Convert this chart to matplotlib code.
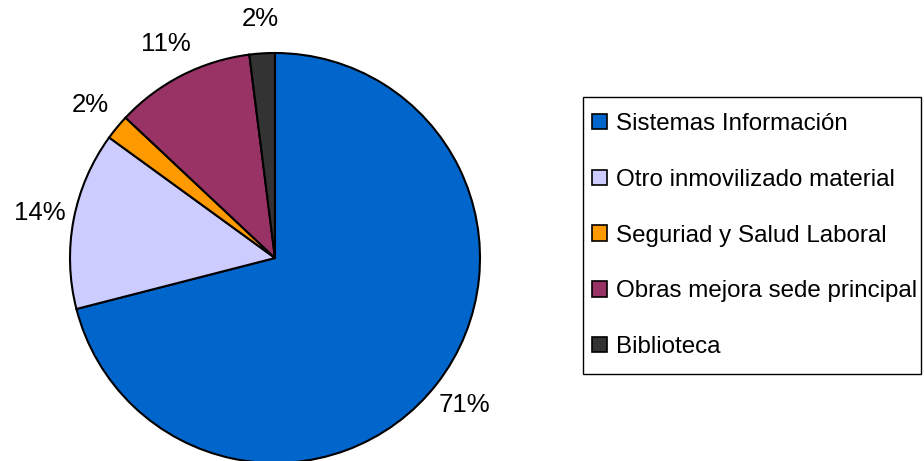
import matplotlib.pyplot as plt
from matplotlib.patches import Patch, Rectangle

plt.rcParams['font.family'] = ['Liberation Sans', 'DejaVu Sans']

categorias = ['Sistemas Información', 'Otro inmovilizado material',
              'Seguriad y Salud Laboral', 'Obras mejora sede principal',
              'Biblioteca']
porcentajes = [71, 14, 2, 11, 2]
colores = ['#0066CC', '#CCCCFF', '#FF9900', '#993366', '#333333']

W, H = 924, 461
fig = plt.figure(figsize=(W / 100, H / 100), dpi=100)
ax = fig.add_axes([0, 0, 1, 1])

wedges, textos, pct = ax.pie(
    porcentajes, colors=colores, startangle=90, counterclock=False,
    center=(275, 203), radius=205, frame=True,
    autopct='%1.0f%%', pctdistance=1.17,
    wedgeprops=dict(edgecolor='black', linewidth=1.5),
    textprops=dict(fontsize=18.5, color='black'))
ax.set_xlim(0, W)
ax.set_ylim(0, H)
ax.set_aspect('equal')
ax.axis('off')

# marco de la leyenda
fig.patches.append(Rectangle((583 / W, 1 - 374 / H), 338 / W, 277 / H,
                             transform=fig.transFigure, facecolor='white',
                             edgecolor='black', linewidth=1.0, zorder=0))

handles = [Patch(facecolor=c, edgecolor='black', linewidth=1.2) for c in colores]
leg = fig.legend(handles, categorias, loc='upper left',
                 bbox_to_anchor=(592 / W, 1 - 113 / H),
                 fontsize=17.4, frameon=False, borderpad=0,
                 labelspacing=1.4, handlelength=0.6, handleheight=0.6,
                 handletextpad=0.38, borderaxespad=0)

fig.savefig('out.png', dpi=100)
